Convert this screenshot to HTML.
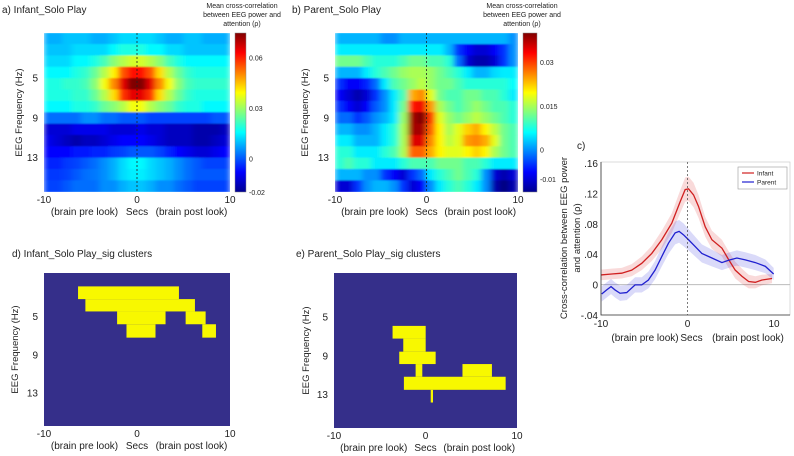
<!DOCTYPE html>
<html><head><meta charset="utf-8">
<style>
html,body{margin:0;padding:0;background:#fff;}
svg{display:block;font-family:"Liberation Sans",sans-serif;}
</style></head>
<body>
<svg id="fig" width="794" height="456" viewBox="0 0 794 456" xmlns="http://www.w3.org/2000/svg">
<defs>
<filter id="blur" x="0" y="0" width="1" height="1"><feGaussianBlur stdDeviation="3 0.7" edgeMode="duplicate"/></filter>
<clipPath id="clipA"><rect x="44" y="33" width="186" height="159"/></clipPath>
<clipPath id="clipB"><rect x="335" y="33" width="183" height="159"/></clipPath>
<linearGradient id="jetA" x1="0" y1="1" x2="0" y2="0">
<stop offset="0" stop-color="#00008f"/><stop offset="0.125" stop-color="#0000ff"/><stop offset="0.375" stop-color="#00ffff"/><stop offset="0.625" stop-color="#ffff00"/><stop offset="0.875" stop-color="#ff0000"/><stop offset="1" stop-color="#800000"/>
</linearGradient>
</defs>
</svg>
<script>
// ---- data ----
const timeTicks = [-10, 0, 10];
const freqTicks = [5, 9, 13];
const heatInfant = [
[8,8,10,10,10,8,8,10,12,12,12,12,10,8,8,10,10,8,8,8],
[10,10,10,12,12,12,12,15,18,18,18,15,15,12,12,10,10,10,10,10],
[12,12,12,15,15,18,22,28,32,35,35,32,28,22,18,15,15,15,15,15],
[15,15,15,18,20,25,32,40,55,62,62,55,42,32,25,20,18,18,18,18],
[18,18,20,20,22,28,38,50,65,75,75,65,50,38,28,22,20,20,20,20],
[18,18,18,20,20,25,32,42,58,65,65,58,42,32,25,20,18,18,18,18],
[15,15,15,18,18,20,25,28,32,38,38,32,28,25,20,18,18,15,15,15],
[2,2,2,2,5,5,2,2,0,0,0,-2,-2,-2,-2,-2,-2,-2,0,0],
[-12,-12,-12,-10,-10,-10,-10,-12,-12,-12,-10,-12,-12,-14,-14,-14,-16,-16,-16,-14],
[-10,-12,-14,-16,-14,-14,-12,-10,-8,-8,-8,-10,-12,-14,-14,-14,-16,-16,-14,-12],
[-8,-8,-8,-6,-6,-5,-5,-3,-2,0,0,0,-2,-5,-8,-10,-12,-12,-10,-8],
[-5,-5,-3,-2,0,2,5,8,12,15,15,12,10,8,5,2,0,-2,-2,-2],
[-3,-3,-2,0,2,3,5,8,12,14,14,12,10,8,5,2,0,0,0,0],
[-2,-2,0,2,2,2,5,5,8,10,10,8,5,5,2,0,-2,-2,-2,-2]
];
const heatParent = [
[2,2,2,2,2,0,0,2,2,2,2,2,2,2,2,2,2,2,2,0],
[5,5,5,5,5,5,5,5,5,5,5,5,2,-5,-8,-10,-10,-8,-5,0],
[12,12,12,10,8,8,8,10,12,12,10,10,8,-2,-10,-12,-12,-10,-5,0],
[2,2,2,5,8,10,12,14,15,15,14,12,10,8,5,2,2,4,5,5],
[-5,-8,-8,-6,-2,5,10,12,14,16,14,12,12,10,8,8,8,8,8,6],
[-8,-10,-12,-10,-5,0,5,10,24,26,18,12,10,10,12,12,10,10,8,5],
[-5,-8,-10,-8,-3,0,5,12,32,34,25,15,12,10,12,14,12,10,10,8],
[-2,-2,-5,-3,0,2,5,14,38,40,30,18,14,12,14,16,14,12,10,8],
[2,2,0,0,2,5,8,15,38,38,28,20,15,18,22,24,20,16,12,10],
[5,5,2,2,2,5,8,15,35,35,26,20,16,18,25,26,24,18,12,10],
[8,8,5,5,5,8,10,15,28,28,24,20,18,18,20,22,20,15,12,10],
[8,10,8,8,5,5,5,8,10,10,10,12,12,12,10,10,8,5,5,5],
[2,2,2,0,0,-5,-8,-10,-5,-2,5,8,10,12,10,8,0,-10,-12,-10],
[-10,-10,-5,0,2,2,0,-5,-10,-8,0,5,8,10,8,5,0,-12,-15,-12]
];
const cbTicksA = [0.06, 0.03, 0, -0.02];
const cbTicksB = [0.03, 0.015, 0, -0.01];
// clusters [t0,t1,f0,f1]
const clustersInfant = [[-6.34,4.51,1.90,3.23],[-5.55,6.23,3.23,4.52],[-2.14,3.07,4.52,5.86],[5.23,7.38,4.52,5.86],[-1.13,1.99,5.86,7.26],[7.02,8.49,5.86,7.26]];
const clustersParent = [[-3.60,0.02,5.96,7.27],[-2.43,0.02,7.27,8.62],[-2.87,1.11,8.62,9.90],[-1.08,-0.35,9.90,11.21],[4.04,7.26,9.90,11.21],[-2.36,8.76,11.21,12.56],[0.57,0.82,12.56,13.87]];
// panel c
const infT = [-10,-8.76,-7.6,-6.45,-5.29,-4.13,-2.97,-1.81,-0.85,-0.27,0.12,0.70,1.27,2.05,2.82,3.98,4.75,5.52,6.29,7.07,7.84,8.61,9.77];
const infV = [0.0127,0.014,0.015,0.019,0.028,0.041,0.059,0.081,0.109,0.125,0.126,0.118,0.103,0.076,0.059,0.048,0.033,0.019,0.011,0.004,0.003,0.006,0.008];
const infErr = [0.007,0.007,0.007,0.008,0.009,0.010,0.012,0.013,0.015,0.016,0.016,0.016,0.015,0.013,0.012,0.011,0.011,0.011,0.010,0.009,0.008,0.007,0.006];
const parT = [-9.92,-9.34,-8.84,-8.38,-7.8,-7.03,-6.06,-5.29,-4.52,-3.75,-2.97,-2.2,-1.43,-0.97,-0.46,0.12,0.89,1.66,2.82,3.98,4.75,5.71,6.68,7.84,9.0,9.96];
const parV = [-0.0123,-0.007,-0.0026,-0.007,-0.0114,-0.0105,-0.0004,-0.0004,0.006,0.019,0.037,0.0545,0.068,0.070,0.0655,0.059,0.050,0.041,0.035,0.029,0.032,0.035,0.0325,0.029,0.024,0.014];
const parErr = [0.010,0.010,0.010,0.010,0.010,0.010,0.010,0.010,0.011,0.012,0.013,0.014,0.015,0.015,0.015,0.014,0.013,0.012,0.011,0.010,0.010,0.010,0.010,0.010,0.009,0.008];
const cTicksY = [0.16,0.12,0.08,0.04,0,-0.04];
const cTickLabelsY = [".16",".12",".08",".04","0","-.04"];

const NS = "http://www.w3.org/2000/svg";
const svg = document.getElementById('fig');
function el(tag, attrs, parent, text){
  const e = document.createElementNS(NS, tag);
  for (const k in attrs) e.setAttribute(k, attrs[k]);
  if (text !== undefined) e.textContent = text;
  (parent || svg).appendChild(e);
  return e;
}
function jet(v){
  v = Math.max(0, Math.min(1, v));
  const r = Math.max(0, Math.min(1, 1.5 - Math.abs(4*v - 3)));
  const g = Math.max(0, Math.min(1, 1.5 - Math.abs(4*v - 2)));
  const b = Math.max(0, Math.min(1, 1.5 - Math.abs(4*v - 1)));
  return `rgb(${Math.round(r*255)},${Math.round(g*255)},${Math.round(b*255)})`;
}
function txt(x,y,s,size,anchor,name,extra){
  const t = el('text', Object.assign({x:x,y:y,'font-size':size,'text-anchor':anchor||'start',fill:'#222'}, extra||{}), svg, s);
  
  
  return t;
}
function axisLabels(L,R,T,B,fy0,fy1,tag,ylx){
  const xs = t => L + (t+10)/20*(R-L);
  const ys = f => T + (f-fy0)/(fy1-fy0)*(B-T);
  timeTicks.forEach(t=>{ txt(xs(t), B+11, String(t), 10, 'middle', tag+'-x-tick-'+t); });
  txt((L+xs(0))/2-6, B+23, '(brain pre look)', 10, 'middle', tag+'-x-pre-label');
  txt(xs(0), B+23, 'Secs', 10, 'middle', tag+'-x-title');
  txt((xs(0)+R)/2+8, B+23, '(brain post look)', 10, 'middle', tag+'-x-post-label');
  freqTicks.forEach(f=>{ txt(L-6, ys(f)+4, String(f), 10, 'end', tag+'-y-tick-'+f); });
  txt(ylx, (T+B)/2, 'EEG Frequency (Hz)', 9.5, 'middle', tag+'-y-title', {transform:`rotate(-90 ${ylx} ${(T+B)/2})`});
}
function heatmap(M, vmin, vmax, L,R,T,B, clipId, tag){
  const g0 = el('g', {'clip-path':`url(#${clipId})`});
  
  
  const g = el('g', {filter:'url(#blur)'}, g0);
  const rows = M.length, cols = M[0].length;
  const cw = (R-L)/cols, rh = (B-T)/rows;
  M.forEach((row,i)=>row.forEach((v,j)=>{
    const c = el('rect', {x:L+j*cw-0.3, y:T+i*rh-0.3, width:cw+0.6, height:rh+0.6, fill:jet((v/1000 - vmin)/(vmax-vmin))}, g);
    
    
  }));
  const d = el('line', {x1:(L+R)/2, x2:(L+R)/2, y1:T, y2:B, stroke:'#222', 'stroke-width':0.8, 'stroke-dasharray':'2,2'});
  
  
}
function colorbar(x,w,T,B,vmin,vmax,ticks,tag){
  const r = el('rect', {x:x, y:T, width:w, height:B-T, fill:'url(#jetA)', stroke:'#888', 'stroke-width':0.5});
  
  
  ticks.forEach(v=>{
    const y = B - (v-vmin)/(vmax-vmin)*(B-T);
    txt(x+w+3, y+3, String(v), 7, 'start', tag+'-colorbar-tick');
  });
}
function clusters(C, L,R,T,B,fy0,fy1,tag){
  const bg = el('rect', {x:L,y:T,width:R-L,height:B-T,fill:'#352f8a'});
  
  
  const xs = t => L + (t+10)/20*(R-L);
  const ys = f => T + (f-fy0)/(fy1-fy0)*(B-T);
  C.forEach(c=>{
    const r = el('rect', {x:xs(c[0]), y:ys(c[2]), width:xs(c[1])-xs(c[0]), height:ys(c[3])-ys(c[2]), fill:'#f8f800'});
    
    
  });
}

// Panel a
txt(2, 13, 'a) Infant_Solo Play', 10, 'start', 'panel-a-title');
['Mean cross-correlation','between EEG power and','attention (ρ)'].forEach((s,i)=>txt(242, 8+i*9, s, 7, 'middle', 'panel-a-colorbar-title'));
heatmap(heatInfant, -0.02, 0.0745, 44,230,33,192,'clipA','panel-a');
colorbar(235, 11, 33, 192, -0.02, 0.0745, cbTicksA, 'panel-a');
axisLabels(44,230,33,192,0.5,16.5,'panel-a',22);

// Panel b
txt(292, 13, 'b) Parent_Solo Play', 10, 'start', 'panel-b-title');
['Mean cross-correlation','between EEG power and','attention (ρ)'].forEach((s,i)=>txt(522, 8+i*9, s, 7, 'middle', 'panel-b-colorbar-title'));
heatmap(heatParent, -0.0145, 0.040, 335,518,33,192,'clipB','panel-b');
colorbar(523, 14, 33, 192, -0.0145, 0.040, cbTicksB, 'panel-b');
axisLabels(335,518,33,192,0.5,16.5,'panel-b',308);

// Panel d
txt(12, 257, 'd) Infant_Solo Play_sig clusters', 10, 'start', 'panel-d-title');
clusters(clustersInfant, 44,230,273,426,0.5,16.5,'panel-d');
axisLabels(44,230,273,426,0.5,16.5,'panel-d',18);

// Panel e
txt(296, 257, 'e) Parent_Solo Play_sig clusters', 10, 'start', 'panel-e-title');
clusters(clustersParent, 334,517,273,428,0.5,16.5,'panel-e');
axisLabels(334,517,273,428,0.5,16.5,'panel-e',309);

// Panel c
(function(){
  const L=601, R=790, T=162, B=315;
  const xs = t => L + (t+10)*8.65;
  const ys = v => 284.6 - v/0.04*30.4;
  txt(577, 149, 'c)', 10, 'start', 'panel-c-label');
  const fr = el('rect', {x:L,y:T,width:R-L,height:B-T,fill:'none',stroke:'#ccc','stroke-width':0.7});
  
  
  const zl = el('line', {x1:L,x2:R,y1:ys(0),y2:ys(0),stroke:'#bbb','stroke-width':1});
  
  
  function band(T_,V,E,color,name){
    let d = 'M'+T_.map((t,i)=>xs(t)+','+ys(V[i]+E[i])).join(' L');
    for (let i=T_.length-1;i>=0;i--) d += ' L'+xs(T_[i])+','+ys(V[i]-E[i]);
    const p = el('path', {d:d+'Z', fill:color, opacity:0.18, stroke:'none'});
    
    
  }
  function line(T_,V,color,name){
    const p = el('path', {d:'M'+T_.map((t,i)=>xs(t)+','+ys(V[i])).join(' L'), fill:'none', stroke:color, 'stroke-width':1.3});
    
    
  }
  band(infT, infV, infErr, '#e03030', 'infant-error-band');
  band(parT, parV, parErr, '#3030e0', 'parent-error-band');
  line(infT, infV, '#d02020', 'infant-line');
  line(parT, parV, '#2020d0', 'parent-line');
  const vd = el('line', {x1:xs(0),x2:xs(0),y1:T,y2:B,stroke:'#444','stroke-width':0.7,'stroke-dasharray':'2,2'});
  
  
  const ax = el('path', {d:`M${L},${T} L${L},${B} L${R},${B}`, fill:'none', stroke:'#333','stroke-width':0.8});
  
  
  cTicksY.forEach((v,i)=>txt(L-3, ys(v)+4, cTickLabelsY[i], 10, 'end', 'panel-c-y-tick'));
  timeTicks.forEach(t=>txt(xs(t), B+12, String(t), 10, 'middle', 'panel-c-x-tick'));
  txt(645, B+26, '(brain pre look)', 10, 'middle', 'panel-c-x-pre-label');
  txt(xs(0)+4, B+26, 'Secs', 10, 'middle', 'panel-c-x-title');
  txt(748, B+26, '(brain post look)', 10, 'middle', 'panel-c-x-post-label');
  txt(567, 238, 'Cross-correlation between EEG power', 9.5, 'middle', 'panel-c-y-title', {transform:'rotate(-90 567 238)'});
  txt(580, 238, 'and attention (ρ)', 9.5, 'middle', 'panel-c-y-title-2', {transform:'rotate(-90 580 238)'});
  const lg = el('g', {});
  
  
  el('rect', {x:738,y:167,width:49,height:22,fill:'#fff',stroke:'#999','stroke-width':0.6}, lg);
  el('line', {x1:742,x2:754,y1:173,y2:173,stroke:'#d02020','stroke-width':1.2}, lg);
  el('line', {x1:742,x2:754,y1:182,y2:182,stroke:'#2020d0','stroke-width':1.2}, lg);
  const t1 = el('text', {x:757,y:175.5,'font-size':6.5,fill:'#222'}, lg, 'Infant');
  
  
  const t2 = el('text', {x:757,y:184.5,'font-size':6.5,fill:'#222'}, lg, 'Parent');
  
  
})();
</script>
</body></html>
